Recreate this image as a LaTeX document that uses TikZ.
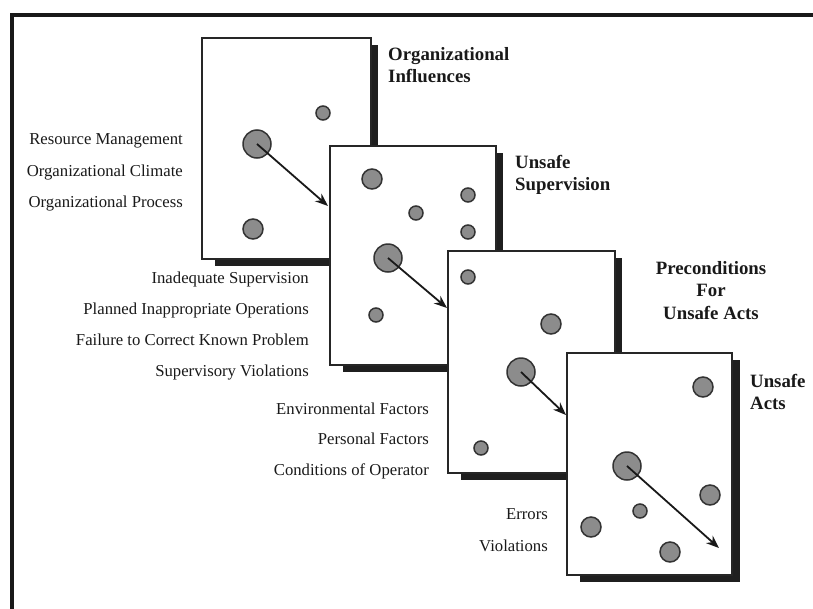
\documentclass[tikz,border=0pt]{standalone}
\usepackage{fontspec}
\setmainfont{Liberation Serif}
\usetikzlibrary{arrows.meta}
\begin{document}
\begin{tikzpicture}[x=1pt,y=-1pt,
  card/.style={draw=black!85, line width=1.4pt, fill=white},
  shadowbox/.style={fill=black!88},
  dot/.style={circle, draw=black!80, line width=1.5pt, fill=black!45, inner sep=0pt, minimum size=#1},
  flow/.style={line width=1.8pt, draw=black!90, -{Stealth[length=13pt,width=10pt]}},
  title/.style={font=\bfseries\fontsize{18.8}{22.5}\selectfont, inner sep=0pt, text=black!90},
  factor/.style={font=\fontsize{16.7}{20}\selectfont, inner sep=0pt, anchor=base east, text=black!90},
]
\useasboundingbox (0,0) rectangle (813,608);
% outer frame
\draw[line width=4pt, black!90, line join=miter] (12,620) -- (12,15) -- (825,15);

% ---- card 1: Organizational Influences
\fill[shadowbox] (215,45) rectangle (378,266);
\draw[card] (202,38) rectangle (371,259);
\node[dot=14] (a1) at (323,113) {};
\node[dot=28] (a2) at (257,144) {};
\node[dot=20] (a3) at (253,229) {};
\coordinate (ta) at (328,206);
\draw[flow] (a2.center) -- (ta);
\node[title, anchor=north west, align=left] (t1) at (388,47) {Organizational\\Influences};
\node[factor] (f11) at (183,144) {Resource Management};
\node[factor] (f12) at (183,176) {Organizational Climate};
\node[factor] (f13) at (183,207) {Organizational Process};

% ---- card 2: Unsafe Supervision
\fill[shadowbox] (343,153) rectangle (503,372);
\draw[card] (330,146) rectangle (496,365);
\node[dot=20] (b1) at (372,179) {};
\node[dot=14] (b2) at (416,213) {};
\node[dot=14] (b3) at (468,195) {};
\node[dot=14] (b4) at (468,232) {};
\node[dot=28] (b5) at (388,258) {};
\node[dot=14] (b6) at (376,315) {};
\coordinate (tb) at (447,308);
\draw[flow] (b5.center) -- (tb);
\node[title, anchor=north west, align=left] (t2) at (515,155) {Unsafe\\Supervision};
\node[factor] (f21) at (309,283) {Inadequate Supervision};
\node[factor] (f22) at (309,314) {Planned Inappropriate Operations};
\node[factor] (f23) at (309,345) {Failure to Correct Known Problem};
\node[factor] (f24) at (309,376) {Supervisory Violations};

% ---- card 3: Preconditions for Unsafe Acts
\fill[shadowbox] (461,258) rectangle (622,480);
\draw[card] (448,251) rectangle (615,473);
\node[dot=14] (c1) at (468,277) {};
\node[dot=20] (c2) at (551,324) {};
\node[dot=28] (c3) at (521,372) {};
\node[dot=14] (c4) at (481,448) {};
\coordinate (tc) at (566,415);
\draw[flow] (c3.center) -- (tc);
\node[title, anchor=north, align=center] (t3) at (711,261) {Preconditions\\For\\Unsafe Acts};
\node[factor] (f31) at (429,414) {Environmental Factors};
\node[factor] (f32) at (429,444.5) {Personal Factors};
\node[factor] (f33) at (429,475) {Conditions of Operator};

% ---- card 4: Unsafe Acts
\fill[shadowbox] (580,360) rectangle (740,582);
\draw[card] (567,353) rectangle (732,575);
\node[dot=20] (d1) at (703,387) {};
\node[dot=28] (d2) at (627,466) {};
\node[dot=20] (d3) at (710,495) {};
\node[dot=14] (d4) at (640,511) {};
\node[dot=20] (d5) at (591,527) {};
\node[dot=20] (d6) at (670,552) {};
\coordinate (td) at (719,548);
\draw[flow] (d2.center) -- (td);
\node[title, anchor=north west, align=left] (t4) at (750,374) {Unsafe\\Acts};
\node[factor] (f41) at (548,519) {Errors};
\node[factor] (f42) at (548,551) {Violations};
\end{tikzpicture}
\end{document}
